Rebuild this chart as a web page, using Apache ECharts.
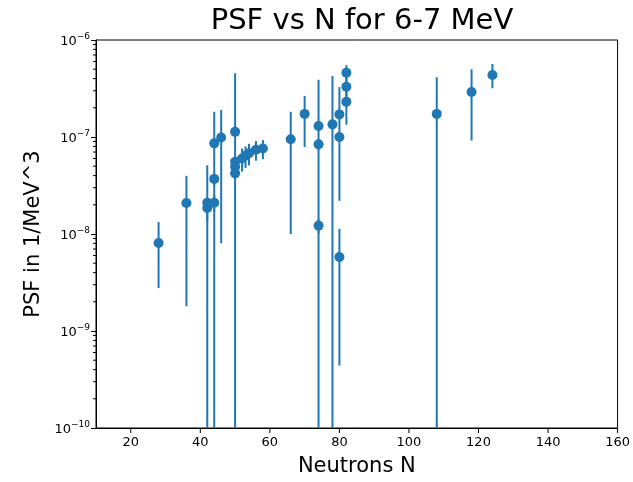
<!DOCTYPE html>
<html><head><meta charset="utf-8">
<script src="https://cdn.jsdelivr.net/npm/echarts@6/dist/echarts.min.js"></script>
<style>html,body{margin:0;padding:0;background:#fff}#c{width:633px;height:482px}</style>
</head><body><div id="c"></div>
<script>
// Neutron number N
const neutrons = [28, 36, 42, 42, 44, 44, 44, 46, 50, 50, 50, 50, 52, 53, 54, 56, 58, 66, 70, 74, 74, 74, 78, 80, 80, 80, 82, 82, 82, 108, 118, 124];
// PSF values (1/MeV^3)
const psf = [8.07e-9, 2.09e-8, 2.1e-8, 1.85e-8, 8.6e-8, 3.7e-8, 2.1e-8, 9.9e-8, 1.13e-7, 5.56e-8, 4.94e-8, 4.22e-8, 6.0e-8, 6.4e-8, 6.8e-8, 7.4e-8, 7.6e-8, 9.5e-8, 1.73e-7, 1.30e-7, 8.4e-8, 1.22e-8, 1.35e-7, 1.71e-7, 1.0e-7, 5.8e-9, 4.6e-7, 3.3e-7, 2.31e-7, 1.73e-7, 2.91e-7, 4.36e-7];
// lower error magnitude
const errMinus = [5.3e-9, 1.91e-8, 3.0e-8, 5e-9, 9.6e-8, 5e-9, 4e-9, 9.1e-8, 3.4e-7, 6e-9, 6e-9, 5e-9, 1.6e-8, 1.6e-8, 1.7e-8, 1.7e-8, 1.7e-8, 8.5e-8, 9.4e-8, 2.6e-7, 1e-8, 2e-9, 2.9e-7, 1.49e-7, 1e-8, 5.36e-9, 0.9e-7, 0.9e-7, 0.97e-7, 2.4e-7, 1.99e-7, 1.18e-7];
// upper error magnitude
const errPlus = [5.2e-9, 1.89e-8, 3.0e-8, 5e-9, 9.6e-8, 5e-9, 4e-9, 9.1e-8, 3.4e-7, 6e-9, 6e-9, 5e-9, 1.6e-8, 1.6e-8, 1.7e-8, 1.7e-8, 1.7e-8, 8.7e-8, 9.2e-8, 2.6e-7, 1e-8, 2e-9, 2.9e-7, 1.56e-7, 1e-8, 5.5e-9, 0.9e-7, 0.9e-7, 0.97e-7, 2.4e-7, 2.08e-7, 1.3e-7];
// axis ticks
const xTicks = [20, 40, 60, 80, 100, 120, 140, 160];
const yExponents = [-10, -9, -8, -7, -6];

const X_MIN = 10, X_MAX = 160, Y_MIN = 1e-10, Y_MAX = 1e-6;
const blue = '#1f77b4';

const points = neutrons.map((n, i) => [n, psf[i]]);
const bars = neutrons.map((n, i) => [n, Math.max(psf[i] - errMinus[i], Y_MIN), psf[i] + errPlus[i]]);

// minor tick values for the log axis (2..9 x 10^k)
const yMinor = [];
for (let k = -10; k < -6; k++) for (let m = 2; m <= 9; m++) yMinor.push([m * Math.pow(10, k)]);
const xTickData = xTicks.map(v => [v]);

const chart = echarts.init(document.getElementById('c'), null, {renderer: 'canvas'});
const font = 'DejaVu Sans';
chart.setOption({
  animation: false,
  backgroundColor: '#fff',
  title: {
    text: 'PSF vs N for 6-7 MeV', left: 357, top: 2, textAlign: 'center',
    textStyle: {fontFamily: font, fontSize: 29, fontWeight: 'normal', color: '#000'}
  },
  grid: {left: 96, right: 15, top: 40, bottom: 54, show: true, borderColor: '#000', borderWidth: 1, backgroundColor: 'transparent'},
  xAxis: {
    type: 'value', min: X_MIN, max: X_MAX, interval: 10,
    name: 'Neutrons N', nameLocation: 'middle', nameGap: 28,
    nameTextStyle: {fontFamily: font, fontSize: 21, color: '#000'},
    axisLine: {show: true, onZero: false, lineStyle: {color: '#000', width: 1}},
    axisTick: {show: false},
    splitLine: {show: false},
    axisLabel: {
      fontFamily: font, fontSize: 13, color: '#000', margin: 8,
      formatter: v => (xTicks.indexOf(v) >= 0 ? String(v) : '')
    }
  },
  yAxis: {
    type: 'log', logBase: 10, min: Y_MIN, max: Y_MAX,
    name: 'PSF in 1/MeV^3', nameLocation: 'middle', nameGap: 51,
    nameTextStyle: {fontFamily: font, fontSize: 21, color: '#000'},
    axisLine: {show: true, lineStyle: {color: '#000', width: 1}},
    axisTick: {show: true, length: 5, lineStyle: {color: '#000', width: 1}},
    splitLine: {show: false},
    axisLabel: {
      fontFamily: font, fontSize: 13, color: '#000', margin: 6,
      formatter: v => {
        const e = Math.round(Math.log10(v));
        return '{b|10}{s|' + (e < 0 ? '\u2212' + (-e) : e) + '}';
      },
      rich: {
        b: {fontFamily: font, fontSize: 13, color: '#000', verticalAlign: 'bottom', lineHeight: 16},
        s: {fontFamily: font, fontSize: 9, color: '#000', verticalAlign: 'top', lineHeight: 16, padding: [0, 0, 8, 0]}
      }
    }
  },
  series: [
    {
      type: 'custom', name: 'errbars', data: bars, z: 2, clip: false,
      renderItem: (params, api) => {
        const x = api.value(0);
        const lo = api.coord([x, api.value(1)]);
        const hi = api.coord([x, api.value(2)]);
        return {type: 'line', shape: {x1: lo[0], y1: lo[1], x2: hi[0], y2: hi[1]},
          style: {stroke: blue, lineWidth: 2}};
      }
    },
    {
      type: 'scatter', name: 'psf', data: points, symbol: 'circle', symbolSize: 10, z: 3,
      itemStyle: {color: blue, opacity: 1}
    },
    {
      type: 'custom', name: 'yminor', data: yMinor, clip: false, silent: true, z: 5,
      renderItem: (params, api) => {
        const p = api.coord([X_MIN, api.value(0)]);
        return {type: 'line', shape: {x1: p[0] - 3, y1: p[1], x2: p[0], y2: p[1]},
          style: {stroke: '#000', lineWidth: 1}};
      }
    },
    {
      type: 'custom', name: 'xticks', data: xTickData, clip: false, silent: true, z: 5,
      renderItem: (params, api) => {
        const p = api.coord([api.value(0), Y_MIN]);
        return {type: 'line', shape: {x1: p[0], y1: p[1], x2: p[0], y2: p[1] + 5},
          style: {stroke: '#000', lineWidth: 1}};
      }
    }
  ]
});
</script></body></html>
